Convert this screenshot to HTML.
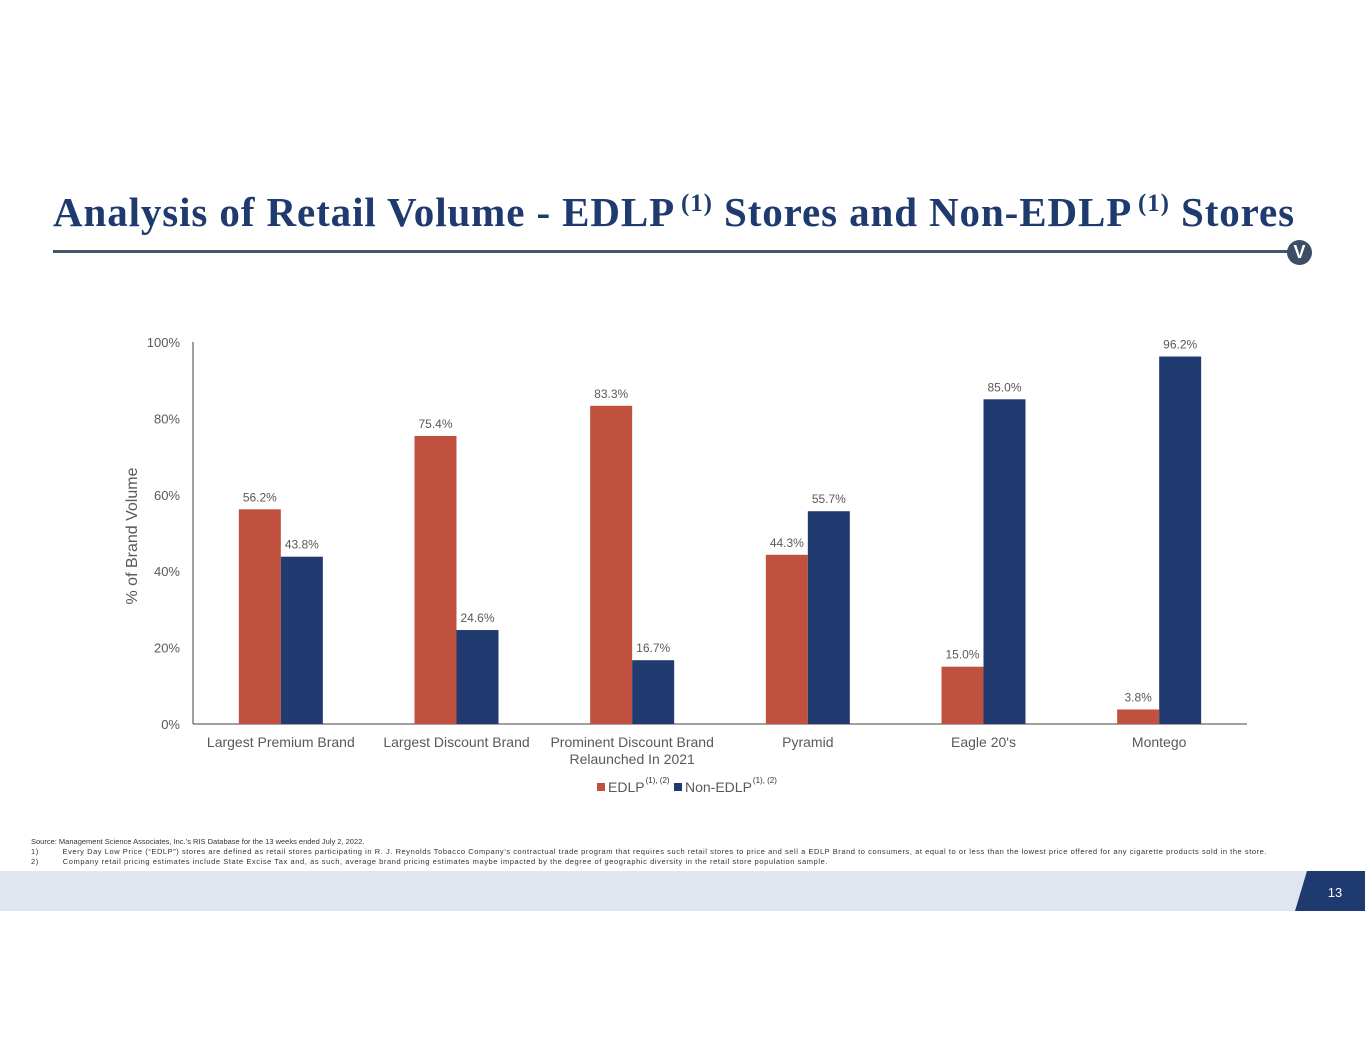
<!DOCTYPE html>
<html><head><meta charset="utf-8"><style>
body{margin:0;width:1365px;height:1055px;background:#fff;position:relative;overflow:hidden;font-family:"Liberation Sans",sans-serif}
.t{position:absolute;left:53px;top:188px;font-family:"Liberation Serif",serif;font-weight:bold;font-size:41px;color:#1f3a6e;white-space:nowrap}
.t sup{font-size:25px;vertical-align:15px}
.fn{position:absolute;left:31px;font-size:7.5px;color:#333;white-space:nowrap}
</style></head><body>
<div class="t" id="ttl">Analysis of Retail Volume - EDLP<sup>&thinsp;(1)</sup> Stores and Non-EDLP<sup>&thinsp;(1)</sup> Stores</div>
<div style="position:absolute;left:53px;top:250px;width:1240px;height:3px;background:#44546a"></div>
<div style="position:absolute;left:1287px;top:240px;width:25px;height:25px;border-radius:50%;background:#3e4d66;color:#fff;font-weight:bold;font-size:18px;text-align:center;line-height:25px">V</div>
<svg id="c" width="1365" height="820" style="position:absolute;left:0;top:0"></svg>
<div class="fn" style="top:837px">Source: Management Science Associates, Inc.’s RIS Database for the 13 weeks ended July 2, 2022.</div>
<div class="fn" id="f1" style="top:847px">1)&nbsp;&nbsp;&nbsp;&nbsp;&nbsp;&nbsp;&nbsp;&nbsp;&nbsp;Every Day Low Price (“EDLP”) stores are defined as retail stores participating in R. J. Reynolds Tobacco Company’s contractual trade program that requires such retail stores to price and sell a EDLP Brand to consumers, at equal to or less than the lowest price offered for any cigarette products sold in the store.</div>
<div class="fn" id="f2" style="top:857px">2)&nbsp;&nbsp;&nbsp;&nbsp;&nbsp;&nbsp;&nbsp;&nbsp;&nbsp;Company retail pricing estimates include State Excise Tax and, as such, average brand pricing estimates maybe impacted by the degree of geographic diversity in the retail store population sample.</div>
<div style="position:absolute;left:0;top:871px;width:1365px;height:40px;background:#dfe6ef"></div>
<svg width="80" height="40" style="position:absolute;left:1285px;top:871px"><polygon points="22,0 80,0 80,40 10,40" fill="#1f3a6e"/><text x="50" y="26" fill="#fff" font-size="13" text-anchor="middle" font-family="Liberation Sans">13</text></svg>
<script>
const categories=[["Largest Premium Brand"],["Largest Discount Brand"],["Prominent Discount Brand","Relaunched In 2021"],["Pyramid"],["Eagle 20's"],["Montego"]];
const edlp=[56.2,75.4,83.3,44.3,15.0,3.8];
const nonEdlp=[43.8,24.6,16.7,55.7,85.0,96.2];
const ticks=[0,20,40,60,80,100];
function fit(id,w){const e=document.getElementById(id);const cw=e.getBoundingClientRect().width;const n=e.textContent.length;e.style.letterSpacing=((w-cw)/n)+'px';}
fit('ttl',1242);fit('f1',1236);fit('f2',797);
const svg=document.getElementById('c');const NS='http://www.w3.org/2000/svg';
const x0=193,x1=1247,y0=724,y100=342;
const y=v=>y0-(y0-y100)*v/100;
const gw=(x1-x0)/categories.length;const cx=i=>x0+gw*(i+0.5);const bw=42;
function mk(t,a,txt){const e=document.createElementNS(NS,t);for(const k in a)e.setAttribute(k,a[k]);if(txt!=null)e.textContent=txt;svg.appendChild(e);return e;}
const f={'font-family':'Liberation Sans','font-size':13,fill:'#595959'};
ticks.forEach(t=>{const e=mk('text',Object.assign({x:180,y:y(t)+5,'text-anchor':'end'},f),t+'%');

});
let yt=mk('text',Object.assign({x:0,y:0,'text-anchor':'middle',transform:'translate(137,536) rotate(-90)'},f,{'font-size':16}),'% of Brand Volume');


let ax=mk('line',{x1:x0,y1:y100,x2:x0,y2:y0,stroke:'#404040','stroke-width':1});


let bx=mk('line',{x1:x0,y1:y0,x2:x1,y2:y0,stroke:'#404040','stroke-width':1});


categories.forEach((c,i)=>{
[[edlp[i],cx(i)-bw,'#c0513f','bar-edlp'],[nonEdlp[i],cx(i),'#213a70','bar-non-edlp']].forEach(([v,bx0,col,n])=>{
const r=mk('rect',{x:bx0,y:y(v),width:bw,height:y0-y(v),fill:col});


const l=mk('text',Object.assign({x:bx0+bw/2,y:y(v)-8,'text-anchor':'middle'},f,{'font-size':12}),v.toFixed(1)+'%');

});
c.forEach((s,j)=>{const l=mk('text',Object.assign({x:cx(i),y:747+j*17,'text-anchor':'middle'},f,{'font-size':14}),s);

});
});
const leg=[['EDLP','#c0513f',597],['Non-EDLP','#213a70',674]];
leg.forEach(([n,c,lx])=>{const r=mk('rect',{x:lx,y:783,width:8,height:8,fill:c});


const t=mk('text',Object.assign({x:lx+11,y:792},f,{'font-size':14}),n);


const w=t.getComputedTextLength();
const s=mk('text',Object.assign({x:lx+12+w,y:783},f,{'font-size':8,fill:'#333'}),'(1), (2)');

});
</script>
</body></html>
